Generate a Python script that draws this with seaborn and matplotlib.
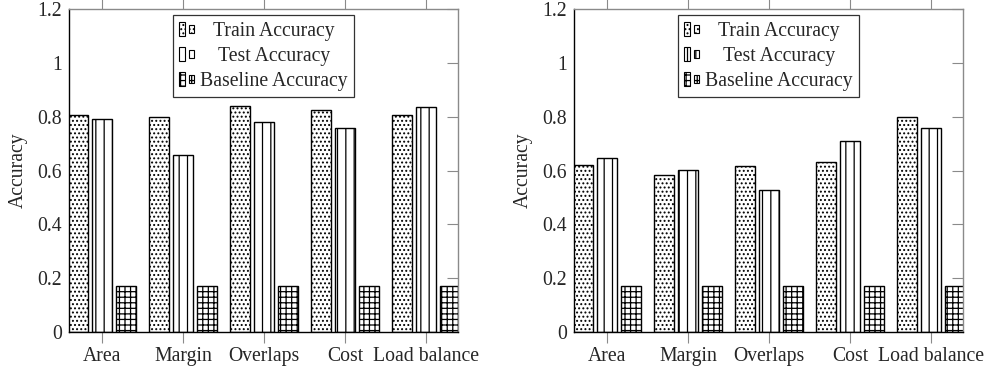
import numpy as np
import pandas as pd
import matplotlib
matplotlib.use("Agg")
import matplotlib.pyplot as plt
import seaborn as sns
from matplotlib.legend_handler import HandlerBase
from matplotlib.patches import Rectangle

categories = ["Area", "Margin", "Overlaps", "Cost", "Load balance"]
series_names = ["Train Accuracy", "Test Accuracy", "Baseline Accuracy"]

left_train = [0.806, 0.798, 0.839, 0.826, 0.806]
left_test = [0.790, 0.657, 0.782, 0.757, 0.836]
left_baseline = [0.17, 0.17, 0.17, 0.17, 0.17]

right_train = [0.620, 0.584, 0.617, 0.632, 0.800]
right_test = [0.645, 0.601, 0.526, 0.708, 0.757]
right_baseline = [0.17, 0.17, 0.17, 0.17, 0.17]

y_ticks = [0, 0.2, 0.4, 0.6, 0.8, 1.0, 1.2]
y_tick_labels = ["0", "0.2", "0.4", "0.6", "0.8", "1", "1.2"]

hatches = ["....", "||", "+++"]
FONT_SIZE = 14.2
GRAY = "#8a8a8a"

sns.set_theme(style="ticks")
plt.rcParams["font.family"] = ["Liberation Serif", "DejaVu Serif"]
plt.rcParams["hatch.linewidth"] = 0.9
plt.rcParams["hatch.color"] = "black"
plt.rcParams["axes.linewidth"] = 1.0


class PairedBarHandler(HandlerBase):
    """Legend key drawn as a tall and a short bar side by side."""

    def create_artists(self, legend, orig_handle, xdescent, ydescent,
                       width, height, fontsize, trans):
        bw = width * 0.36
        x0, y0 = -xdescent, -ydescent
        tall = Rectangle((x0, y0), bw, height)
        short = Rectangle((x0 + width - bw, y0 + height * 0.2), bw, height * 0.6)
        for r in (tall, short):
            r.set_facecolor("white")
            r.set_edgecolor("black")
            r.set_linewidth(0.8)
            r.set_hatch(orig_handle.get_hatch())
            r.set_transform(trans)
        return [tall, short]


def draw_panel(ax, train, test, baseline):
    df = pd.DataFrame({
        "Category": categories * 3,
        "Series": np.repeat(series_names, len(categories)),
        "Accuracy": train + test + baseline,
    })
    sns.barplot(data=df, x="Category", y="Accuracy", hue="Series",
                order=categories, hue_order=series_names,
                palette=["white"] * 3, saturation=1, errorbar=None,
                edgecolor="black", linewidth=1.0, width=0.889, gap=0.166,
                legend=False, ax=ax)
    for cont, h in zip(ax.containers, hatches):
        for p in cont:
            p.set_hatch(h)

    ax.set_xlim(-0.407, 4.395)
    ax.set_ylim(0, 1.2)
    ax.set_yticks(y_ticks)
    ax.set_yticklabels(y_tick_labels)
    ax.set_xlabel("")
    ax.set_ylabel("Accuracy", fontsize=FONT_SIZE, labelpad=7)

    ax.tick_params(axis="x", direction="out", length=8, width=0.8,
                   color=GRAY, top=True, bottom=True, labelsize=FONT_SIZE,
                   pad=3)
    ax.tick_params(axis="y", direction="in", length=8, width=0.8,
                   color=GRAY, left=False, right=True, labelsize=FONT_SIZE,
                   pad=5)
    for side in ("left", "bottom"):
        ax.spines[side].set_color("black")
    for side in ("top", "right"):
        ax.spines[side].set_visible(True)
        ax.spines[side].set_color(GRAY)

    handles = [cont.patches[0] for cont in ax.containers]
    leg = ax.legend(handles, series_names,
                    handler_map={Rectangle: PairedBarHandler()},
                    loc="upper center", bbox_to_anchor=(0.5, 0.981),
                    borderaxespad=0, frameon=True, fancybox=False,
                    edgecolor="#333333", framealpha=1,
                    handlelength=0.75, handleheight=0.75, handletextpad=0.3,
                    labelspacing=0.3, borderpad=0.33, fontsize=FONT_SIZE)
    leg.get_frame().set_linewidth(0.9)
    return leg


fig = plt.figure(figsize=(9.9, 3.7), dpi=100)
ax_left = fig.add_axes([69 / 990, 38 / 370, 389 / 990, 323 / 370])
ax_right = fig.add_axes([574 / 990, 38 / 370, 389 / 990, 323 / 370])

legends = [
    draw_panel(ax_left, left_train, left_test, left_baseline),
    draw_panel(ax_right, right_train, right_test, right_baseline),
]

# centre each legend entry's text within the label column
fig.canvas.draw()
renderer = fig.canvas.get_renderer()
for leg in legends:
    texts = leg.get_texts()
    widths = [t.get_window_extent(renderer).width for t in texts]
    widest = max(widths)
    for t, w in zip(texts, widths):
        t.set_x((widest - w) / 2)

fig.savefig("out.png", dpi=100)
